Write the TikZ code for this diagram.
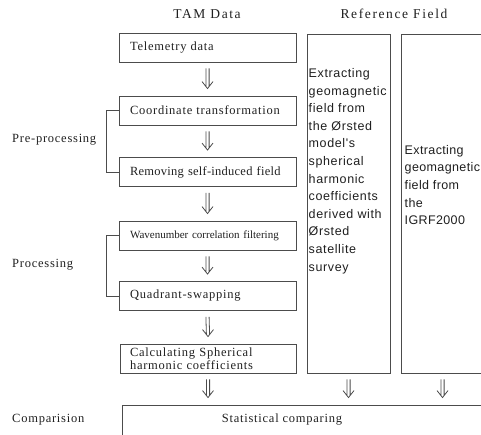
\documentclass[tikz,border=0pt]{standalone}
\usepackage{fontspec}
\setmainfont{Liberation Serif}
\newfontfamily\sansls[LetterSpace=5]{Liberation Sans}
\newfontfamily\sanslt[LetterSpace=3]{Liberation Sans}
\newfontfamily\serifls[LetterSpace=6]{Liberation Serif}
\newfontfamily\seriflt[LetterSpace=2]{Liberation Serif}
\newfontfamily\serifhd[LetterSpace=12]{Liberation Serif}
\usetikzlibrary{calc}
\definecolor{lc}{gray}{0.3}
\definecolor{tc}{gray}{0.12}
\begin{document}
\begin{tikzpicture}[x=1pt,y=-1pt,
  lbox/.style={draw=lc, line width=0.9pt, minimum width=177pt, minimum height=29pt,
    text width=155pt, align=left, inner xsep=11pt, inner ysep=0pt,
    font=\serifls\fontsize{12.5}{13}\selectfont, text=tc},
  rbox/.style={draw=lc, line width=0.9pt, minimum width=83pt, minimum height=339pt, inner sep=0pt},
  rtext/.style={font=\sansls\fontsize{12.5}{17.6}\selectfont, text=tc, align=left, inner sep=0pt, anchor=west},
  hd/.style={font=\serifhd\fontsize{13.5}{16}\selectfont, text=tc, inner sep=0pt},
  side/.style={font=\serifls\fontsize{12.5}{15}\selectfont, text=tc, inner sep=0pt, anchor=west},
  dbl/.style={draw=lc, line width=0.8pt, to path={
     ($(\tikztostart)+(-1.6,6)$) -- ($(\tikztotarget)+(-1.6,-9)$)
     ($(\tikztostart)+(1.6,6)$) -- ($(\tikztotarget)+(1.6,-9)$)
     ($(\tikztotarget)+(-5.5,-14)$) -- ($(\tikztotarget)+(0,-7)$) -- ($(\tikztotarget)+(5.5,-14)$)}},
  brk/.style={draw=lc, line width=0.9pt}
]
\useasboundingbox (0,0) rectangle (481,434);
\clip (0,0) rectangle (481,434);

% headers
\node[hd] (h1) at (207,14) {TAM Data};
\node[hd] (h2) at (394,14) {Reference Field};

% left column
\node[lbox] (b1) at (207.5,47.5) {Telemetry data};
\node[lbox] (b2) at (207.5,110.5) {Coordinate transformation};
\node[lbox, font=\seriflt\fontsize{12.5}{13}\selectfont] (b3) at (207.5,172) {Removing self-induced field};
\node[lbox, font=\rmfamily\fontsize{11}{13}\selectfont] (b4) at (207.5,235.5) {Wavenumber correlation filtering};
\node[lbox] (b5) at (207.5,296) {Quadrant-swapping};
\node[lbox, minimum width=176pt, text width=156pt, inner xsep=10pt] (b6) at (208,358.5) {Calculating Spherical\\harmonic coefficients};

% reference boxes
\node[rbox] (r1) at (348.5,203.5) {};
\node[rbox] (r2) at (442.5,203.5) {};
\node[rtext] (t1) at (308.5,171) {Extracting\\geomagnetic\\field from\\the Ørsted\\model's\\spherical\\harmonic\\coefficients\\derived with\\Ørsted\\satellite\\survey};
\node[rtext, font=\sanslt\fontsize{12.5}{17.6}\selectfont] (t2) at (404.5,185) {Extracting\\geomagnetic\\field from\\the\\IGRF2000};

% comparison box
\node[draw=lc, line width=0.9pt, minimum width=398pt, minimum height=55pt, inner sep=0pt] (st) at (321,432.5) {};
\node[font=\serifls\fontsize{12.5}{15}\selectfont, text=tc, inner sep=0pt] (stt) at (282,420) {Statistical comparing};

% side labels
\node[side] (s1) at (12,140) {Pre-processing};
\node[side] (s2) at (12,265) {Processing};
\node[side] (s3) at (12,420) {Comparision};

% brackets
\draw[brk] (b2.west) -- ++(-12,0) |- (b3.west);
\draw[brk] (b4.west) -- ++(-12,0) |- (b5.west);

% arrow end points on the comparison box
\coordinate (e6) at (b6.south |- st.north);
\coordinate (e7) at (r1.south |- st.north);
\coordinate (e8) at (r2.south |- st.north);

% arrows
\draw[dbl] (b1.south) to (b2.north);
\draw[dbl] (b2.south) to (b3.north);
\draw[dbl] (b3.south) to (b4.north);
\draw[dbl] (b4.south) to (b5.north);
\draw[dbl] (b5.south) to (b6.north);
\draw[dbl] (b6.south) to (e6);
\draw[dbl] (r1.south) to (e7);
\draw[dbl] (r2.south) to (e8);
\end{tikzpicture}
\end{document}
